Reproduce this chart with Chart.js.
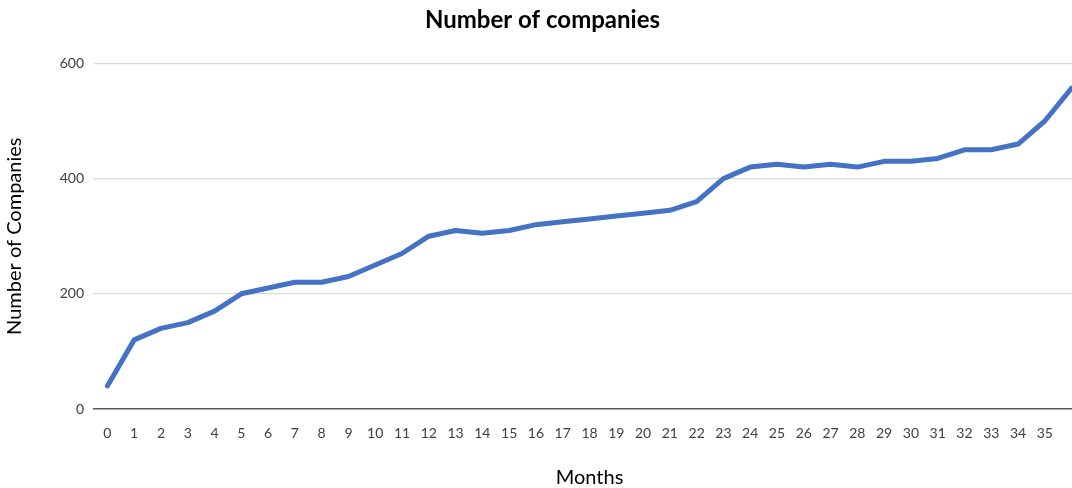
<!DOCTYPE html>
<html>
<head>
<meta charset="utf-8">
<title>Number of companies</title>
<script src="https://cdn.jsdelivr.net/npm/chart.js@4.4.1/dist/chart.umd.min.js"></script>
<style>
  html, body { margin: 0; padding: 0; background: #fff; overflow: hidden; }
  #wrap { position: relative; width: 1086px; height: 488px; }
</style>
</head>
<body>
<div id="wrap"><canvas id="companiesChart"></canvas></div>
<script>
// Months on the x axis (the last one runs off the right edge)
var months = ['0', '1', '2', '3', '4', '5', '6', '7', '8', '9', '10', '11', '12',
              '13', '14', '15', '16', '17', '18', '19', '20', '21', '22', '23', '24',
              '25', '26', '27', '28', '29', '30', '31', '32', '33', '34', '35', '36'];
// Only these month labels get printed under the axis
var tickLabels = months.slice(0, 36);

var companies = [40, 120, 140, 150, 170, 200, 210, 220, 220, 230, 250, 270, 300,
                 310, 305, 310, 320, 325, 330, 335, 340, 345, 360, 400, 420,
                 425, 420, 425, 420, 430, 430, 435, 450, 450, 460, 500, 557];

var yTicks = [0, 200, 400, 600];

var FONT = 'Lato, "Open Sans", sans-serif';

var ctx = document.getElementById('companiesChart').getContext('2d');
var myChart = new Chart(ctx, {
    type: 'line',
    data: {
        labels: months,
        datasets: [{
            label: 'Number of Companies',
            data: companies,
            borderColor: '#4472C4',
            backgroundColor: '#4472C4',
            borderWidth: 5,
            borderJoinStyle: 'round',
            borderCapStyle: 'round',
            pointRadius: 0,
            tension: 0,
            fill: false
        }]
    },
    options: {
        responsive: true,
        maintainAspectRatio: false,
        animation: false,
        layout: { padding: { left: 0, right: 1, top: 0, bottom: 0 } },
        plugins: {
            legend: { display: false },
            tooltip: { enabled: false },
            title: {
                display: true,
                text: 'Number of companies',
                color: '#000',
                font: { family: FONT, size: 24, weight: 'bold' },
                padding: { top: 6, bottom: 28.6 }
            }
        },
        scales: {
            x: {
                offset: true,
                grid: { display: false },
                border: { display: true, color: '#595959', width: 1.5 },
                ticks: {
                    color: '#404040',
                    font: { family: FONT, size: 14 },
                    padding: 8,
                    autoSkip: false,
                    maxRotation: 0,
                    callback: function (value, index) {
                        return index < tickLabels.length ? tickLabels[index] : '';
                    }
                },
                title: {
                    display: true,
                    text: 'Months',
                    color: '#000',
                    font: { family: FONT, size: 20, lineHeight: 1.0 },
                    padding: { top: 0, bottom: 0 }
                },
                afterFit: function (scale) { scale.height = 79; }
            },
            y: {
                min: 0,
                max: 600,
                afterBuildTicks: function (scale) {
                    scale.ticks = yTicks.map(function (v) { return { value: v }; });
                },
                grid: {
                    drawTicks: false,
                    color: function (c) { return c.tick && c.tick.value === 0 ? 'rgba(0,0,0,0)' : '#d9d9d9'; },
                    lineWidth: 1.2
                },
                border: { display: false },
                ticks: {
                    color: '#404040',
                    font: { family: FONT, size: 14 },
                    padding: 10
                },
                title: {
                    display: true,
                    text: 'Number of Companies',
                    color: '#000',
                    font: { family: FONT, size: 20, lineHeight: 1.2 },
                    padding: { top: 3, bottom: 0 }
                },
                afterFit: function (scale) { scale.width = 94; }
            }
        }
    }
});
</script>
</body>
</html>
